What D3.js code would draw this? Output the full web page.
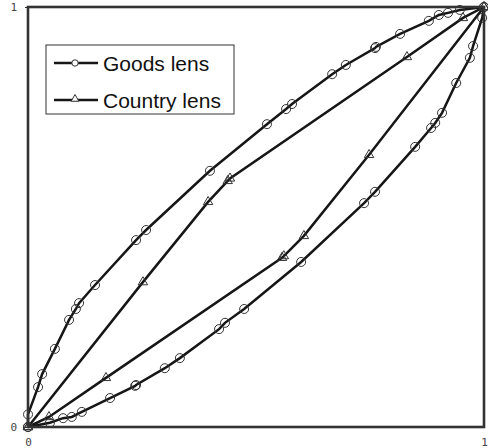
<!DOCTYPE html>
<html>
<head>
<meta charset="utf-8">
<script src="https://cdn.jsdelivr.net/npm/d3@7"></script>
<style>
  body { margin: 0; background: #fff; }
  .tick text { font-family: "DejaVu Sans Mono", monospace; font-size: 11px; fill: #444; }
</style>
</head>
<body>
<div id="root"></div>
<script>
const margin = { left: 28, right: 4, top: 7, bottom: 21 };
const width = 488 - margin.left - margin.right;
const height = 448 - margin.top - margin.bottom;

// goods lens: upper and lower edges, [share x, share y]
const goodsUpper = [
  [0, 0], [0, 0.03], [0.022, 0.095], [0.031, 0.126], [0.059, 0.186], [0.09, 0.255],
  [0.105, 0.281], [0.112, 0.295], [0.147, 0.338], [0.237, 0.445], [0.259, 0.469],
  [0.399, 0.61], [0.524, 0.721], [0.566, 0.757], [0.579, 0.769], [0.667, 0.84],
  [0.697, 0.862], [0.761, 0.902], [0.763, 0.905], [0.816, 0.936], [0.879, 0.967],
  [0.901, 0.981], [0.921, 0.986], [0.947, 0.993], [1, 1]
];
const goodsLower = [
  [0, 0], [0.048, 0.01], [0.077, 0.021], [0.096, 0.024], [0.118, 0.036], [0.18, 0.069],
  [0.235, 0.098], [0.237, 0.1], [0.3, 0.14], [0.333, 0.164], [0.419, 0.233], [0.432, 0.248],
  [0.474, 0.281], [0.599, 0.393], [0.737, 0.533], [0.761, 0.56], [0.849, 0.667],
  [0.884, 0.712], [0.893, 0.724], [0.908, 0.748], [0.939, 0.819], [0.969, 0.879],
  [0.976, 0.907], [0.996, 0.974], [1, 1]
];
// country lens
const countryUpper = [
  [0, 0], [0.252, 0.345], [0.395, 0.536], [0.438, 0.586], [0.443, 0.592],
  [0.831, 0.881], [0.954, 0.974], [1, 1]
];
const countryLower = [
  [0, 0], [0.046, 0.024], [0.171, 0.117], [0.557, 0.403], [0.561, 0.407],
  [0.605, 0.455], [0.748, 0.648], [1, 1]
];
const tickValues = [0, 1];
const legendLabels = ['Goods lens', 'Country lens'];

const svg = d3.select('#root').append('svg')
  .attr('width', 488)
  .attr('height', 448);

const g = svg.append('g')
  .attr('transform', `translate(${margin.left}, ${margin.top})`);

const x = d3.scaleLinear().domain([0, 1]).range([0, width]);
const y = d3.scaleLinear().domain([0, 1]).range([height, 0]);

const line = d3.line().x(d => x(d[0])).y(d => y(d[1]));

// series lines
[goodsUpper, goodsLower, countryUpper, countryLower].forEach(s => {
  g.append('path')
    .datum(s)
    .attr('d', line)
    .attr('fill', 'none')
    .attr('stroke', '#161616')
    .attr('stroke-width', 2.5);
});

const tri = d3.symbol().type(d3.symbolTriangle).size(38);

// circle markers
g.append('g').selectAll('circle')
  .data(goodsUpper.concat(goodsLower))
  .enter().append('circle')
    .attr('cx', d => x(d[0]))
    .attr('cy', d => y(d[1]))
    .attr('r', 4.5)
    .attr('fill', 'none')
    .attr('stroke', '#333')
    .attr('stroke-width', 1);

// triangle markers
g.append('g').selectAll('path')
  .data(countryUpper.concat(countryLower))
  .enter().append('path')
    .attr('d', tri)
    .attr('transform', d => `translate(${x(d[0])}, ${y(d[1])})`)
    .attr('fill', 'none')
    .attr('stroke', '#333')
    .attr('stroke-width', 1);

// axes
const yAxis = d3.axisLeft(y).tickValues(tickValues).tickFormat(d3.format('d')).tickSize(3).tickPadding(8);
const xAxis = d3.axisBottom(x).tickValues(tickValues).tickFormat(d3.format('d')).tickSize(0).tickPadding(11);

const ya = g.append('g').call(yAxis);
const xa = g.append('g').attr('transform', `translate(0, ${height})`).call(xAxis);
[ya, xa].forEach(a => {
  a.select('.domain').remove();
  a.selectAll('.tick line').attr('stroke', '#333');
});

// plot frame
g.append('rect')
  .attr('x', 0)
  .attr('y', 0)
  .attr('width', width)
  .attr('height', height)
  .attr('fill', 'none')
  .attr('stroke', '#333')
  .attr('stroke-width', 2.6);

// legend
const legend = g.append('g').attr('transform', 'translate(18, 38)');
legend.append('rect')
  .attr('width', 188)
  .attr('height', 69)
  .attr('fill', '#fff')
  .attr('stroke', '#333')
  .attr('stroke-width', 1);

legendLabels.forEach((label, i) => {
  const row = legend.append('g').attr('transform', `translate(0, ${18 + i * 37})`);
  row.append('line')
    .attr('x1', 8).attr('x2', 52)
    .attr('stroke', '#161616')
    .attr('stroke-width', 2.5);
  if (i === 0) {
    row.append('circle').attr('cx', 29).attr('r', 3.2)
      .attr('fill', '#fff').attr('stroke', '#333');
  } else {
    row.append('path').attr('d', d3.symbol().type(d3.symbolTriangle).size(26))
      .attr('transform', 'translate(29, -1)')
      .attr('fill', '#fff').attr('stroke', '#333');
  }
  row.append('text')
    .attr('x', 57)
    .attr('y', 8)
    .style('font-family', "'Liberation Sans', Arial, sans-serif")
    .style('font-size', '21px')
    .attr('fill', '#111')
    .text(label);
});
</script>
</body>
</html>
